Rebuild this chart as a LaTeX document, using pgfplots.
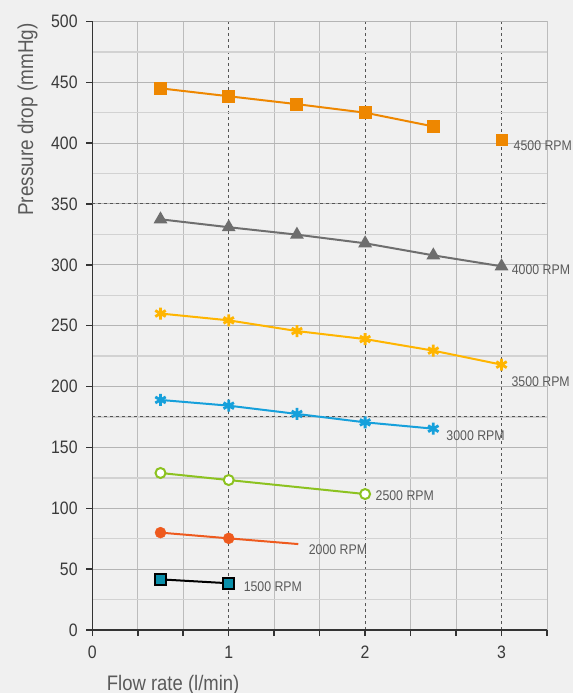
\documentclass[border=0pt]{standalone}
\usepackage{fontspec}
\setmainfont{Liberation Sans}[FakeStretch=0.88]
\usepackage{pgfplots}
\pgfplotsset{compat=1.18}
\usetikzlibrary{plotmarks}
\definecolor{bg}{HTML}{F0F0F0}
\definecolor{axc}{HTML}{333333}
\definecolor{tickc}{HTML}{3A3A3A}
\definecolor{labc}{HTML}{5A5A5A}
\definecolor{gridv}{HTML}{BCBCBC}
\definecolor{gridh}{HTML}{B4B4B4}
\definecolor{gridhm}{HTML}{D2D2D2}
\definecolor{dashc}{HTML}{555555}
\definecolor{cA}{HTML}{EE8700}
\definecolor{cB}{HTML}{6E6E6E}
\definecolor{cC}{HTML}{FFB500}
\definecolor{cD}{HTML}{16A0DB}
\definecolor{cE}{HTML}{8CC220}
\definecolor{cF}{HTML}{EE5A1E}
\definecolor{cG}{HTML}{0A8FAA}
\begin{document}
\begin{tikzpicture}
\fill[bg, use as bounding box] (-92.3pt,-63pt) rectangle (480.7pt,630pt);
\begin{axis}[
  at={(0,0)}, anchor=south west,
  scale only axis, width=454.7pt, height=608.6pt,
  xmin=0, xmax=3.33333, ymin=0, ymax=500,
  axis x line*=bottom, axis y line*=left,
  axis line style={draw=axc, line width=1.5pt},
  xtick={0,1,2,3},
  minor xtick={0.33333,0.66667,1.33333,1.66667,2.33333,2.66667,3.33333},
  ytick={0,50,...,500},
  minor ytick={25,75,...,475},
  tick align=outside,
  major tick length=6pt, minor tick length=6pt,
  tick style={draw=axc, line width=1.5pt},
  minor y tick style={draw=none},
  grid=both,
  major x grid style={draw=dashc, line width=1pt, dash pattern=on 3pt off 3pt},
  minor x grid style={draw=gridv, line width=1pt},
  major y grid style={draw=gridh, line width=1pt},
  minor y grid style={draw=gridhm, line width=1.5pt},
  extra y ticks={175,350},
  extra y tick labels={},
  extra y tick style={major tick length=0pt, major y grid style={draw=dashc, line width=1pt, dash pattern=on 3pt off 3pt}},
  /pgf/number format/assume math mode=true,
  xticklabel style={font=\fontsize{18}{20}\selectfont, text=tickc, inner sep=0pt, anchor=north, yshift=-9.5pt},
  yticklabel style={font=\fontsize{18}{20}\selectfont, text=tickc, inner sep=0pt, anchor=east, xshift=-8.5pt},
  xlabel={Flow rate (l/min)},
  ylabel={Pressure drop (mmHg)},
  xlabel style={font=\fontsize{21}{23}\selectfont, text=labc, inner sep=0pt, at={(axis description cs:0.0317,0)}, anchor=base west, yshift=-60pt},
  ylabel style={font=\fontsize{21.5}{23}\selectfont, text=labc, inner sep=0pt, at={(axis description cs:-0.1304,0.997)}, anchor=base east, rotate=0},
  clip=false,
]
% 4500 RPM
\addplot[cA, line width=2pt, mark=square*, mark size=5.5pt, mark options={solid, draw=none, fill=cA}]
  coordinates {(0.5,445)(1,438.5)(1.5,432)(2,425)(2.5,413.7)};
\addplot[cA, only marks, mark=square*, mark size=5.5pt, mark options={draw=none, fill=cA}]
  coordinates {(3,402.8)};
% 4000 RPM
\addplot[cB, line width=2pt, mark=triangle*, mark size=6pt, mark options={solid, draw=none, fill=cB}]
  coordinates {(0.5,337.4)(1,330.9)(1.5,324.8)(2,317.7)(2.5,307.8)(3,298.8)};
% 3500 RPM
\addplot[cC, line width=2pt, mark=asterisk, mark size=6pt, mark options={solid, line width=2.8pt}]
  coordinates {(0.5,260)(1,254.4)(1.5,245.6)(2,239)(2.5,229.5)(3,218)};
% 3000 RPM
\addplot[cD, line width=2pt, mark=asterisk, mark size=6pt, mark options={solid, line width=2.8pt}]
  coordinates {(0.5,189)(1,184.3)(1.5,177.5)(2,170.6)(2.5,165.4)};
% 2500 RPM
\addplot[cE, line width=2pt, mark=*, mark size=5pt, mark options={solid, draw=cE, fill=white, line width=2pt}]
  coordinates {(0.5,129)(1,123.2)(2,111.7)};
% 2000 RPM
\addplot[cF, line width=2pt] coordinates {(0.5,80)(1,75.3)(1.51,70.6)};
\addplot[cF, only marks, mark=*, mark size=5.5pt, mark options={draw=none, fill=cF}]
  coordinates {(0.5,80)(1,75.3)};
% 1500 RPM
\addplot[black, line width=2pt, mark=square*, mark size=5.5pt, mark options={solid, draw=black, fill=cG, line width=2pt}]
  coordinates {(0.5,41.6)(1,38.4)};
% labels
\begin{scope}[every node/.style={font=\fontsize{14}{16}\selectfont, text=labc, inner sep=0pt, anchor=base west}]
\node at (axis cs:3.088,394) {4500 RPM};
\node at (axis cs:3.074,291.7) {4000 RPM};
\node at (axis cs:3.072,199.9) {3500 RPM};
\node at (axis cs:2.595,155.5) {3000 RPM};
\node at (axis cs:2.076,106.2) {2500 RPM};
\node at (axis cs:1.586,62.4) {2000 RPM};
\node at (axis cs:1.109,32) {1500 RPM};
\end{scope}
\end{axis}
\end{tikzpicture}
\end{document}
